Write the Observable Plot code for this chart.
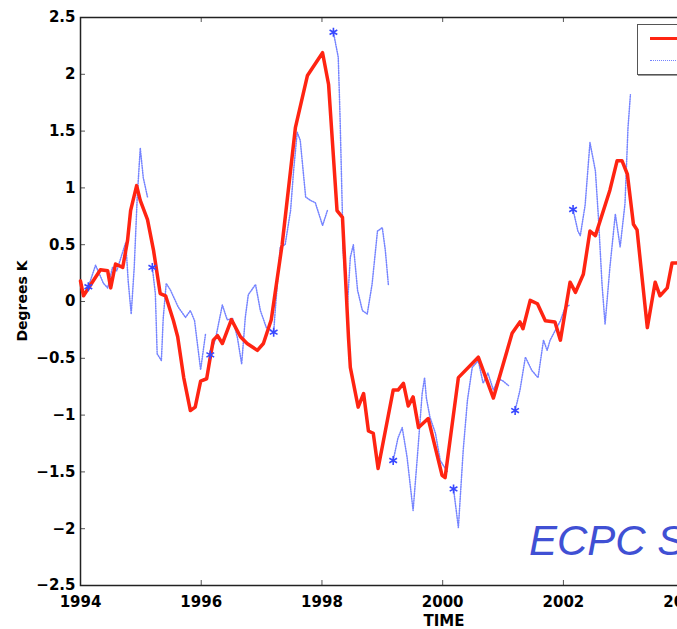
<!DOCTYPE html>
<html><head><meta charset="utf-8">
<script src="https://cdn.jsdelivr.net/npm/d3@7"></script>
<script src="https://cdn.jsdelivr.net/npm/@observablehq/plot@0.6"></script>
<style>
html,body{margin:0;padding:0;overflow:hidden;background:#fff;width:677px;height:629px}
#wrap{position:relative;width:677px;height:629px;overflow:hidden}
#wrap svg{position:absolute;left:0;top:0;max-width:none !important;width:760px !important;height:629px !important}
.legend{position:absolute;left:637px;top:24px;width:110px;height:49px;background:#fff;border:1px solid #555;box-shadow:1px 1px 0 #999}
.legend .row{position:absolute;left:12px;width:60px;height:0}
.stamp{position:absolute;left:529px;top:517px;font:italic 42px "Liberation Sans",Arial,sans-serif;color:#4050d4;white-space:nowrap}
</style></head><body><div id="wrap"></div>
<script>
// Observed anomaly (red)
const obsYear=[1994.00,1994.05,1994.33,1994.45,1994.50,1994.58,1994.70,1994.78,1994.83,1994.93,1994.99,1995.11,1995.21,1995.32,1995.41,1995.54,1995.61,1995.71,1995.82,1995.90,1995.99,1996.09,1996.15,1996.20,1996.27,1996.35,1996.50,1996.65,1996.76,1996.93,1997.03,1997.16,1997.34,1997.56,1997.76,1998.01,1998.11,1998.25,1998.34,1998.39,1998.44,1998.47,1998.60,1998.69,1998.77,1998.85,1998.93,1999.18,1999.26,1999.35,1999.43,1999.51,1999.60,1999.76,1999.99,2000.04,2000.26,2000.59,2000.84,2001.15,2001.28,2001.33,2001.45,2001.57,2001.70,2001.86,2001.95,2002.11,2002.20,2002.33,2002.44,2002.53,2002.77,2002.89,2002.97,2003.06,2003.16,2003.22,2003.39,2003.52,2003.60,2003.72,2003.80,2003.88,2004.00];
const obsVal=[0.18,0.05,0.28,0.27,0.12,0.33,0.30,0.54,0.80,1.02,0.89,0.72,0.45,0.07,0.05,-0.17,-0.31,-0.67,-0.96,-0.93,-0.70,-0.68,-0.49,-0.34,-0.30,-0.37,-0.16,-0.31,-0.37,-0.43,-0.37,-0.16,0.50,1.53,1.99,2.19,1.91,0.80,0.74,0.21,-0.32,-0.58,-0.93,-0.81,-1.14,-1.16,-1.47,-0.78,-0.78,-0.72,-0.92,-0.84,-1.11,-1.03,-1.53,-1.55,-0.67,-0.49,-0.85,-0.28,-0.18,-0.24,0.01,-0.02,-0.17,-0.18,-0.34,0.17,0.08,0.24,0.62,0.58,0.98,1.24,1.24,1.12,0.68,0.63,-0.23,0.17,0.05,0.12,0.34,0.34,0.35];

// Forecast runs (blue), one per start year
const fcRun=[1,1,1,1,1,1,1,1,1,1,1,1,1,1, 2,2,2,2,2,2,2,2,2,2,2,2,2, 3,3,3,3,3,3,3,3,3,3,3,3,3, 4,4,4,4,4,4,4,4,4,4,4,4,4, 5,5,5,5,5,5,5,5,5,5,5,5,5,5,5,5, 6,6,6,6,6,6,6,6,6,6,6,6,6, 7,7,7,7,7,7,7,7,7,7,7,7, 8,8,8,8,8,8,8,8,8,8,8,8, 9,9,9,9,9,9,9,9,9,9,9,9,9,9,9];
const fcYear=[1994.13,1994.25,1994.38,1994.45,1994.53,1994.60,1994.75,1994.79,1994.84,1994.89,1994.94,1994.99,1995.04,1995.11,
1995.19,1995.24,1995.27,1995.34,1995.37,1995.42,1995.49,1995.62,1995.74,1995.82,1995.89,1995.99,1996.07,
1996.15,1996.24,1996.35,1996.43,1996.52,1996.60,1996.67,1996.73,1996.78,1996.90,1996.98,1997.08,1997.15,
1997.20,1997.23,1997.31,1997.39,1997.48,1997.53,1997.59,1997.64,1997.73,1997.81,1997.89,1998.01,1998.09,
1998.19,1998.27,1998.30,1998.34,1998.35,1998.42,1998.47,1998.52,1998.59,1998.67,1998.75,1998.83,1998.92,1999.00,1999.05,1999.10,
1999.18,1999.26,1999.33,1999.41,1999.51,1999.58,1999.66,1999.70,1999.73,1999.79,1999.88,1999.96,2000.08,
2000.18,2000.26,2000.34,2000.41,2000.49,2000.59,2000.67,2000.75,2000.84,2000.92,2001.00,2001.09,
2001.20,2001.28,2001.37,2001.48,2001.58,2001.67,2001.73,2001.78,2001.86,2001.95,2002.03,2002.11,
2002.16,2002.24,2002.28,2002.36,2002.44,2002.53,2002.58,2002.64,2002.69,2002.77,2002.86,2002.94,2003.02,2003.07,2003.11];
const fcVal=[0.13,0.32,0.16,0.12,0.30,0.27,0.52,0.18,-0.11,0.30,0.92,1.35,1.09,0.92,
0.30,0.07,-0.46,-0.52,-0.15,0.16,0.10,-0.05,-0.14,-0.08,-0.17,-0.60,-0.29,
-0.47,-0.32,-0.03,-0.16,-0.15,-0.32,-0.55,-0.14,0.06,0.15,-0.08,-0.23,-0.25,
-0.27,-0.05,0.48,0.50,0.80,1.15,1.49,1.42,0.92,0.89,0.87,0.67,0.80,
2.37,2.15,1.62,0.74,0.45,-0.05,0.39,0.50,0.10,-0.08,-0.11,0.15,0.62,0.65,0.45,0.15,
-1.40,-1.20,-1.11,-1.37,-1.84,-1.37,-0.81,-0.67,-0.85,-1.02,-1.16,-1.40,-1.50,
-1.65,-1.99,-1.31,-0.87,-0.58,-0.52,-0.72,-0.63,-0.78,-0.68,-0.70,-0.74,
-0.96,-0.78,-0.49,-0.61,-0.67,-0.34,-0.43,-0.34,-0.26,-0.17,-0.05,-0.03,
0.81,0.62,0.58,0.85,1.40,1.15,0.74,0.15,-0.20,0.30,0.77,0.48,0.86,1.53,1.82];

const yTicks=[-2.5,-2,-1.5,-1,-0.5,0,0.5,1,1.5,2,2.5];
const xTicks=[1994,1996,1998,2000,2002,2004];
const stampText="ECPC S";

const obs=obsYear.map((t,i)=>({t,v:obsVal[i]}));
const fc=fcYear.map((t,i)=>({t,v:fcVal[i],run:fcRun[i]}));
const starts=fc.filter((d,i)=>i===0||fcRun[i]!==fcRun[i-1]);

const xDom=[1994,2005], yDom=[-2.5,2.5];
const W=760,H=629,mL=80,mR=16,mT=17,mB=44;
const tx=5*(xDom[1]-xDom[0])/(W-mL-mR);   // 5px in x units
const ty=5*(yDom[1]-yDom[0])/(H-mT-mB);   // 5px in y units
const fmtY=d=>d<0?"\u2212"+String(-d):String(d);
const font='"DejaVu Sans",sans-serif';
const chart=Plot.plot({
  width:W,height:H,
  marginLeft:mL,marginRight:mR,marginTop:mT,marginBottom:mB,
  style:{fontFamily:font,fontSize:"14px",fontWeight:"bold",color:"#000",background:"#fff",maxWidth:"none"},
  x:{domain:xDom},
  y:{domain:yDom},
  marks:[
    Plot.axisX({ticks:xTicks,tickFormat:d=>String(d),tickSize:0,tickPadding:11,label:null,fontSize:15,fontWeight:"bold"}),
    Plot.axisY({ticks:yTicks,tickFormat:fmtY,tickSize:0,tickPadding:5,label:null,fontSize:15,fontWeight:"bold"}),
    // inward tick marks (MATLAB style)
    Plot.ruleY(yTicks,{x1:xDom[0],x2:xDom[0]+tx,stroke:"#555",strokeWidth:1}),
    Plot.ruleX(xTicks,{y1:yDom[0],y2:yDom[0]+ty,stroke:"#555",strokeWidth:1}),
    Plot.ruleX(xTicks,{y1:yDom[1],y2:yDom[1]-ty,stroke:"#555",strokeWidth:1}),
    Plot.frame({stroke:"#222",strokeWidth:1.5}),
    Plot.line(fc,{x:"t",y:"v",z:"run",stroke:"#7483ff",strokeWidth:1.5,strokeDasharray:"1,1.4"}),
    Plot.line(obs,{x:"t",y:"v",stroke:"#ff2412",strokeWidth:3.5,strokeLinejoin:"round"}),
    Plot.dot(starts,{x:"t",y:"v",symbol:"asterisk",r:4.2,stroke:"#3848ff",strokeWidth:1.6})
  ]
});
const wrap=document.getElementById("wrap");
wrap.appendChild(chart);

// axis titles
const svg=d3.select(chart);
svg.append("text").attr("x",444).attr("y",626).attr("text-anchor","middle")
  .style("font","bold 15px "+font).text("TIME");
svg.append("text").attr("transform","translate(27,301) rotate(-90)").attr("text-anchor","middle")
  .style("font","bold 14px "+font).text("Degrees K");

// legend (labels fall outside the visible area in the reference)
const lg=document.createElement("div");lg.className="legend";
lg.innerHTML=`<div class="row" style="top:12px;border-top:3.5px solid #ff2412"></div>
<div class="row" style="top:35px;border-top:1.5px dotted #7483ff"></div>`;
wrap.appendChild(lg);
const st=document.createElement("div");st.className="stamp";st.textContent=stampText;wrap.appendChild(st);
</script></body></html>
